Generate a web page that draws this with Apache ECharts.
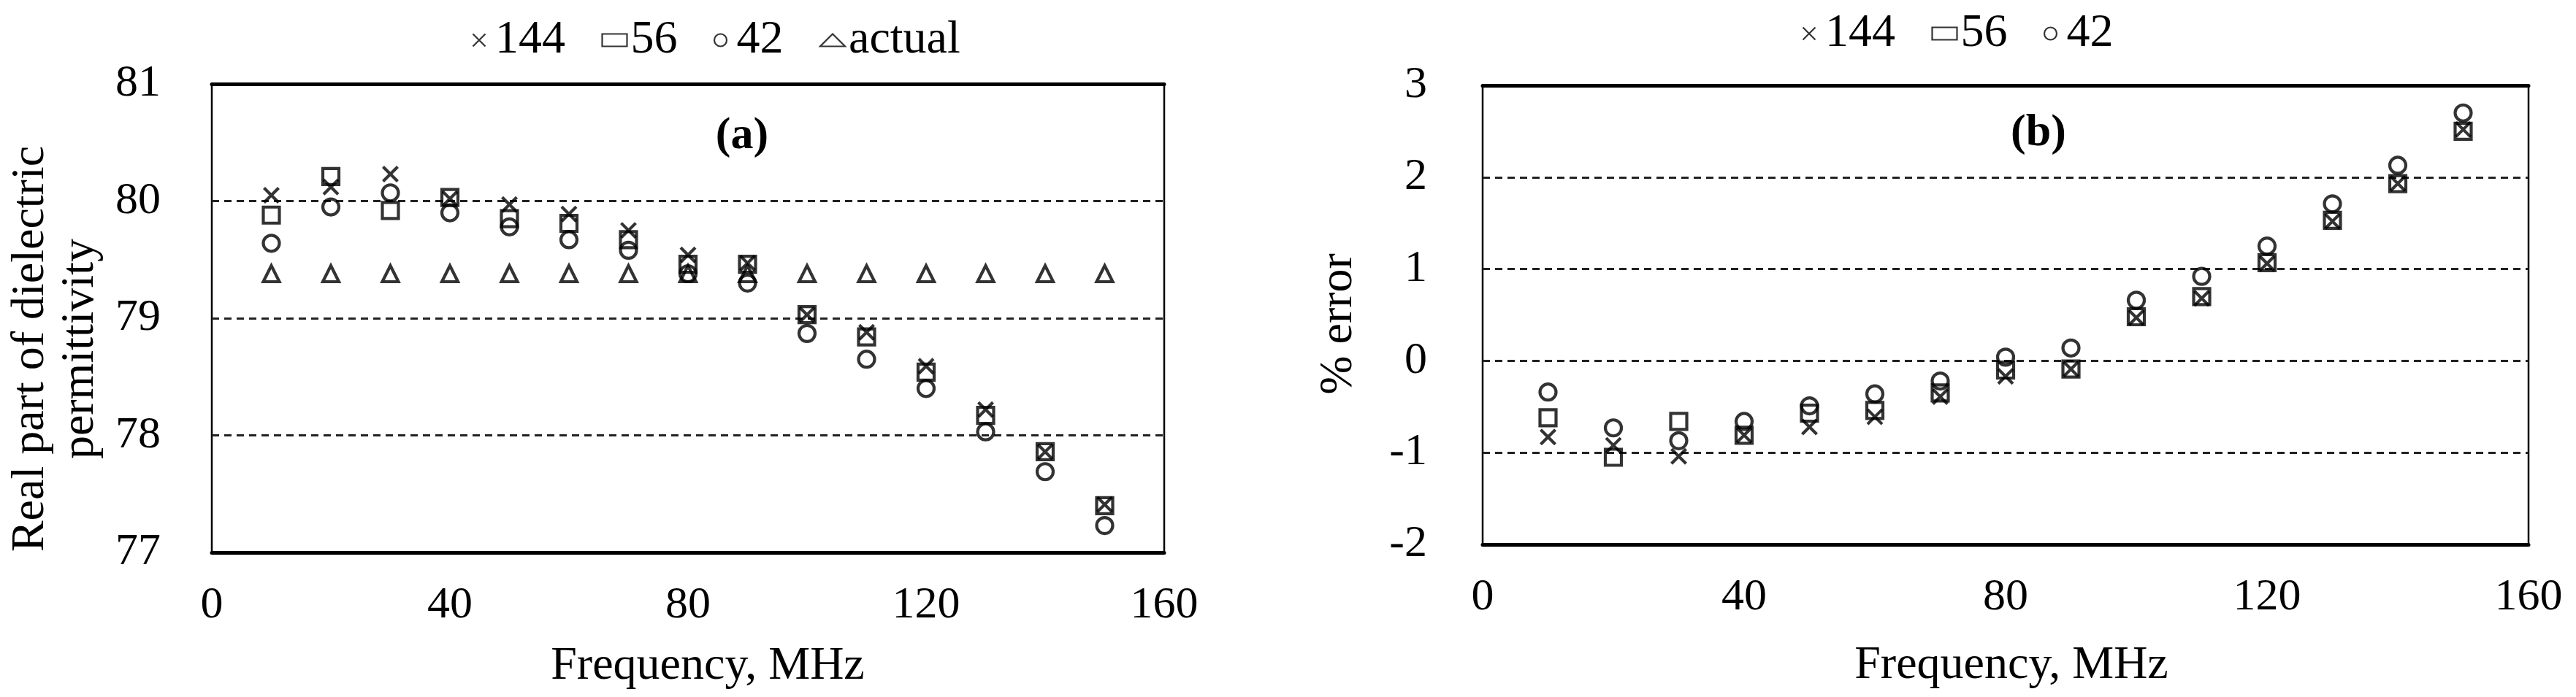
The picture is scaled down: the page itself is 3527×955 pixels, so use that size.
<!DOCTYPE html>
<html>
<head>
<meta charset="utf-8">
<script src="https://cdn.jsdelivr.net/npm/echarts@6/dist/echarts.min.js"></script>
<style>
html,body{margin:0;padding:0;background:#fff;}
#chart{width:3527px;height:955px;}
</style>
</head>
<body>
<div id="chart"></div>
<script>
// ---------- data ----------
const freq = [10, 20, 30, 40, 50, 60, 70, 80, 90, 100, 110, 120, 130, 140, 150];
// (a) real part of dielectric permittivity
const perm144 = [80.05, 80.12, 80.23, 80.02, 79.97, 79.89, 79.75, 79.54, 79.47, 79.03, 78.88, 78.59, 78.22, 77.86, 77.41];
const perm56  = [79.88, 80.21, 79.92, 80.03, 79.85, 79.81, 79.67, 79.46, 79.46, 79.03, 78.84, 78.54, 78.17, 77.86, 77.40];
const perm42  = [79.64, 79.95, 80.07, 79.90, 79.78, 79.67, 79.58, 79.38, 79.30, 78.87, 78.65, 78.40, 78.03, 77.69, 77.23];
const permActual = [79.38, 79.38, 79.38, 79.38, 79.38, 79.38, 79.38, 79.38, 79.38, 79.38, 79.38, 79.38, 79.38, 79.38, 79.38];
// (b) % error
const err144 = [-0.83, -0.92, -1.04, -0.81, -0.72, -0.61, -0.39, -0.17, -0.09, 0.47, 0.68, 1.06, 1.52, 1.93, 2.52];
const err56  = [-0.62, -1.05, -0.66, -0.81, -0.57, -0.54, -0.35, -0.10, -0.09, 0.48, 0.70, 1.07, 1.53, 1.93, 2.50];
const err42  = [-0.34, -0.73, -0.87, -0.66, -0.49, -0.36, -0.22, 0.04, 0.14, 0.66, 0.92, 1.25, 1.71, 2.13, 2.70];

const seriesNames = ['144', '56', '42', 'actual'];
const xTicks = {min: 0, max: 160, interval: 40};
const yTicksA = {min: 77, max: 81, interval: 1};
const yTicksB = {min: -2, max: 3, interval: 1};
const xTitle = 'Frequency, MHz';
const yTitleA = 'Real part of dielectric\npermittivity';
const yTitleB = '% error';
const panelA = '(a)';
const panelB = '(b)';

// ---------- styling ----------
const FONT = 'Liberation Serif';
const CROSS = 'path://M0,0L10,10M10,0L0,10';
const symbols = {'144': CROSS, '56': 'rect', '42': 'circle', 'actual': 'triangle'};
const sizes = {'144': 20, '56': 22, '42': 22, 'actual': 22};

function pairs(ys) { return freq.map((f, i) => [f, ys[i]]); }

function scatter(name, ys, gi) {
  return {
    type: 'scatter', name: name,
    xAxisIndex: gi * 2, yAxisIndex: gi,
    data: pairs(ys),
    symbol: symbols[name], symbolSize: sizes[name],
    itemStyle: {color: 'none', borderColor: '#000', borderWidth: 4.2},
    emphasis: {disabled: true},
    z: 5
  };
}

function xAxisPair(gi) {
  return [
    {
      type: 'value', gridIndex: gi, position: 'bottom',
      min: xTicks.min, max: xTicks.max, interval: xTicks.interval,
      axisLine: {show: true, onZero: false, lineStyle: {color: '#000', width: 5}},
      axisTick: {show: false},
      splitLine: {show: false},
      axisLabel: {margin: 42, color: '#000', fontFamily: FONT, fontSize: 62}
    },
    {
      type: 'value', gridIndex: gi, position: 'top',
      min: xTicks.min, max: xTicks.max, interval: xTicks.interval,
      axisLine: {show: true, onZero: false, lineStyle: {color: '#000', width: 5}},
      axisTick: {show: false}, axisLabel: {show: false}, splitLine: {show: false}
    }
  ];
}

function yAxis(gi, t, margin) {
  return {
    type: 'value', gridIndex: gi,
    min: t.min, max: t.max, interval: t.interval,
    axisLine: {show: false},
    axisTick: {show: false},
    axisLabel: {margin: margin, color: '#000', fontFamily: FONT, fontSize: 62},
    splitLine: {show: true, lineStyle: {color: '#222', width: 3, type: [10, 7]}}
  };
}

function gtext(text, x, y, opts) {
  opts = opts || {};
  return {
    type: 'text', x: x, y: y, rotation: opts.rotation || 0, z: 10,
    style: {
      text: text, fill: '#000',
      font: (opts.bold ? 'bold ' : '') + (opts.size || 64) + 'px "' + FONT + '"',
      align: 'center', verticalAlign: 'middle',
      textAlign: 'center', textVerticalAlign: 'middle',
      lineHeight: opts.lineHeight || 76
    }
  };
}

const legendBase = {
  orient: 'horizontal',
  itemWidth: 34, itemHeight: 17,
  itemGap: 48,
  textStyle: {fontFamily: FONT, fontSize: 64, color: '#000'},
  selectedMode: false
};
function legendItems(names) {
  return names.map(n => ({name: n, icon: symbols[n], itemStyle: {color: 'none', borderColor: '#000', borderWidth: 2.2}}));
}

const chart = echarts.init(document.getElementById('chart'), null, {renderer: 'canvas'});
chart.setOption({
  animation: false,
  backgroundColor: '#fff',
  textStyle: {fontFamily: FONT},
  grid: [
    {left: 290, right: 3527 - 1594, top: 115, bottom: 955 - 757, show: true, borderColor: '#000', borderWidth: 2.5, backgroundColor: 'transparent'},
    {left: 2030, right: 3527 - 3462, top: 117, bottom: 955 - 746, show: true, borderColor: '#000', borderWidth: 2.5, backgroundColor: 'transparent'}
  ],
  xAxis: [].concat(xAxisPair(0), xAxisPair(1)),
  yAxis: [yAxis(0, yTicksA, 70), yAxis(1, yTicksB, 76)],
  legend: [
    Object.assign({}, legendBase, {left: 640, top: 18, data: legendItems(seriesNames)}),
    Object.assign({}, legendBase, {left: 2461, top: 9, data: legendItems(seriesNames.slice(0, 3))})
  ],
  series: [
    scatter('144', perm144, 0),
    scatter('56', perm56, 0),
    scatter('42', perm42, 0),
    scatter('actual', permActual, 0),
    scatter('144', err144, 1),
    scatter('56', err56, 1),
    scatter('42', err42, 1)
  ],
  graphic: [
    gtext(yTitleA, 76, 478, {rotation: Math.PI / 2, lineHeight: 68}),
    gtext(yTitleB, 1833, 444, {rotation: Math.PI / 2}),
    gtext(xTitle, 969, 913),
    gtext(xTitle, 2754, 912),
    gtext(panelA, 1016, 187, {bold: true, size: 62}),
    gtext(panelB, 2791, 183, {bold: true, size: 62})
  ]
});
</script>
</body>
</html>
